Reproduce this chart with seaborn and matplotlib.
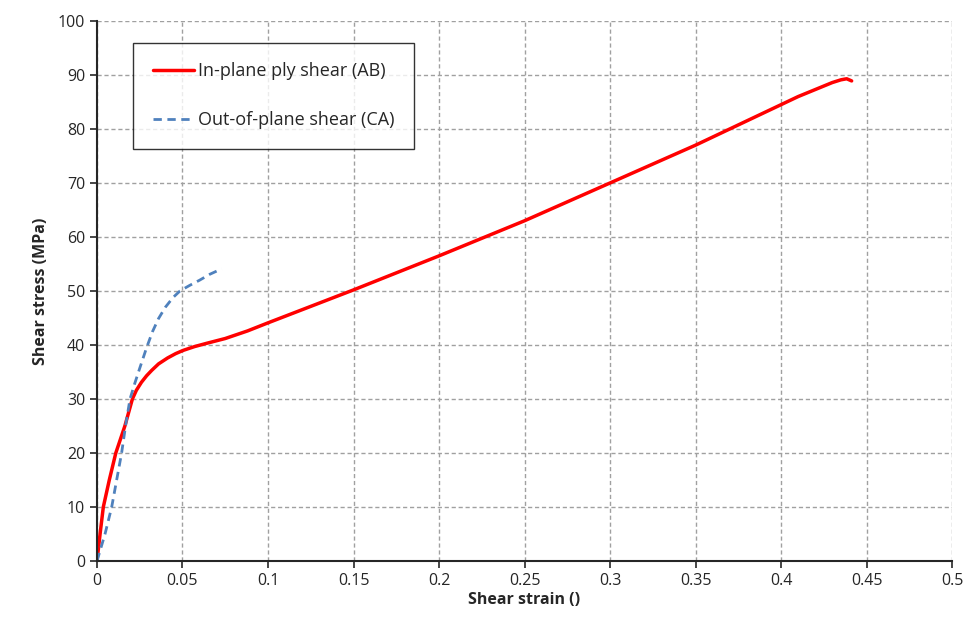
import numpy as np
import pandas as pd
import seaborn as sns
import matplotlib.pyplot as plt
from matplotlib.ticker import FuncFormatter

# In-plane ply shear (AB)
ab_strain = [0.0, 0.0018, 0.0037, 0.0072, 0.011, 0.0163, 0.0207, 0.023, 0.026, 0.029,
             0.032, 0.036, 0.0413, 0.046, 0.0504, 0.057, 0.064, 0.075, 0.088, 0.1,
             0.15, 0.2, 0.25, 0.3, 0.35, 0.4, 0.41, 0.42, 0.43, 0.435, 0.4384, 0.4413]
ab_stress = [0.0, 5.0, 10.0, 15.0, 20.0, 25.0, 30.0, 31.6, 33.1, 34.3,
             35.3, 36.5, 37.6, 38.4, 39.0, 39.7, 40.3, 41.2, 42.6, 44.1,
             50.2, 56.5, 63.0, 70.0, 77.0, 84.5, 86.0, 87.3, 88.6, 89.1, 89.3, 88.9]

# Out-of-plane shear (CA)
ca_strain = [0.0, 0.0047, 0.0086, 0.0144, 0.0167, 0.0193, 0.022, 0.0251, 0.029,
             0.0325, 0.036, 0.040, 0.0445, 0.0485, 0.054, 0.060, 0.066, 0.0729]
ca_stress = [0.0, 5.0, 10.0, 20.0, 25.0, 30.0, 32.8, 35.8, 39.5,
             42.5, 44.9, 47.0, 48.8, 50.0, 51.0, 52.0, 53.1, 54.1]

sns.set_style("white")
plt.rcParams['font.family'] = ['Open Sans', 'DejaVu Sans']

fig = plt.figure(figsize=(9.68, 6.28), dpi=100)
ax = fig.add_axes([0.1002, 0.1067, 0.8833, 0.8599])

ab = pd.DataFrame({'strain': ab_strain, 'stress': ab_stress})
ca = pd.DataFrame({'strain': ca_strain, 'stress': ca_stress})

sns.lineplot(data=ab, x='strain', y='stress', sort=False, ax=ax, color='#FF0000',
             linewidth=2.5, label='In-plane ply shear (AB)')
sns.lineplot(data=ca, x='strain', y='stress', sort=False, ax=ax, color='#4F81BD',
             linewidth=2.0, linestyle=(0, (3, 2)), label='Out-of-plane shear (CA)')

ax.set_xlim(0, 0.5)
ax.set_ylim(0, 100)
ax.set_xticks(np.arange(0, 0.501, 0.05))
ax.set_yticks(np.arange(0, 101, 10))
ax.xaxis.set_major_formatter(FuncFormatter(lambda v, p: ('%.2f' % v).rstrip('0').rstrip('.') if v else '0'))

ax.grid(True, color='#a0a0a0', linestyle=(0, (3, 2)), linewidth=1.0)
for s in ['top', 'right']:
    ax.spines[s].set_visible(False)
for s in ['left', 'bottom']:
    ax.spines[s].set_color('#262626')
    ax.spines[s].set_linewidth(1.5)
ax.tick_params(axis='both', direction='out', length=5, width=1.2, color='#262626',
               labelsize=11.5, left=True, bottom=True)

ax.set_xlabel('Shear strain ()', fontsize=11.5, fontweight='bold', labelpad=2)
ax.set_ylabel('Shear stress (MPa)', fontsize=11.5, fontweight='bold', labelpad=6)

leg = ax.legend(loc='upper left', bbox_to_anchor=(0.042, 0.96), fontsize=13,
                frameon=True, fancybox=False, handlelength=2.3, labelspacing=1.7,
                borderpad=1.1, handletextpad=0.2, borderaxespad=0)
leg.get_frame().set_edgecolor('black')
leg.get_frame().set_linewidth(1.0)

fig.savefig('out.png', dpi=100)
